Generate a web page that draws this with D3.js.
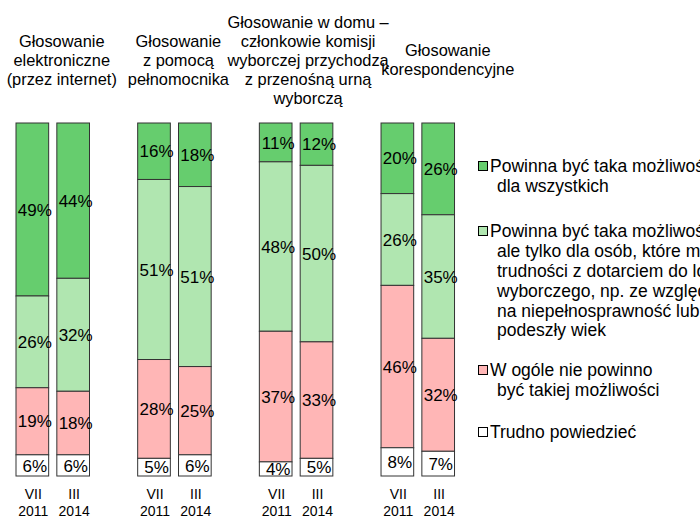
<!DOCTYPE html>
<html>
<head>
<meta charset="utf-8">
<script src="https://cdn.jsdelivr.net/npm/d3@7"></script>
<style>
    body { margin: 0; background: #fff; }
    svg text { font-family: "Liberation Sans", Arial, sans-serif; fill: #000; }
</style>
</head>
<body>
<svg id="chart" width="700" height="517"></svg>
<script>
// data
const groups = ["elektroniczne", "pelnomocnik", "w domu", "korespondencyjne"];
const groupTitles = [
    ["Głosowanie", "elektroniczne", "(przez internet)"],
    ["Głosowanie", "z pomocą", "pełnomocnika"],
    ["Głosowanie w domu –", "członkowie komisji", "wyborczej przychodzą", "z przenośną urną", "wyborczą"],
    ["Głosowanie", "korespondencyjne"]
];
const periods = ["VII 2011", "III 2014"];
const periodLines = [["VII", "2011"], ["III", "2014"]];
const seriesKeys = ["all", "limited", "no", "dontknow"];

// values per group, per period, stacked top -> bottom
const valAll      = [[49, 44], [16, 18], [11, 12], [20, 26]];
const valLimited  = [[26, 32], [51, 51], [48, 50], [26, 35]];
const valNo       = [[19, 18], [28, 25], [37, 33], [46, 32]];
const valDontKnow = [[6, 6],   [5, 6],   [4, 5],   [8, 7]];

const legendLines = [
    ["Powinna być taka możliwość", "dla wszystkich"],
    ["Powinna być taka możliwość", "ale tylko dla osób, które mają", "trudności z dotarciem do lokalu", "wyborczego, np. ze względu", "na niepełnosprawność lub", "podeszły wiek"],
    ["W ogóle nie powinno", "być takiej możliwości"],
    ["Trudno powiedzieć"]
];

const colors = {all: "#66cd6e", limited: "#b0e6b0", no: "#ffb6b6", dontknow: "#ffffff"};

const svg = d3.select("#chart");

const xGroup = d3.scaleBand().domain(groups).range([0, 486.7]);
const xBar = d3.scaleBand().domain(periods).range([16, 89.5]).paddingInner(0.2);
const y = d3.scaleLinear().domain([0, 100]).range([476, 123]);

const values = [valAll, valLimited, valNo, valDontKnow];

groups.forEach(function(g, gi){
    periods.forEach(function(p, pi){
        const bx = xGroup(g) + xBar(p);
        const bw = xBar.bandwidth();
        // build stack from top
        let top = 100;
        const segs = seriesKeys.map(function(k, si){
            const v = values[si][gi][pi];
            const s = {key: k, v: v, y0: top, y1: top - v};
            top -= v;
            return s;
        });

        const bar = svg.append("g");
        bar.selectAll("rect")
            .data(segs)
            .enter().append("rect")
            .attr("x", bx)
            .attr("width", bw)
            .attr("y", d => y(d.y0))
            .attr("height", d => y(d.y1) - y(d.y0))
            .attr("fill", d => colors[d.key])
            .attr("stroke", "#333")
            .attr("stroke-width", 1);

        bar.selectAll("text")
            .data(segs)
            .enter().append("text")
            .attr("x", bx + bw / 2 + 2.5)
            .attr("y", d => (y(d.y0) + y(d.y1)) / 2)
            .attr("dy", "0.36em")
            .attr("text-anchor", "middle")
            .attr("font-size", "17px")
            .text(d => d.v + "%");

        // period label under bar
        periodLines[pi].forEach(function(line, li){
            svg.append("text")
                .attr("x", bx + bw / 2 + 1)
                .attr("y", 499 + li * 16.5)
                .attr("text-anchor", "middle")
                .attr("font-size", "14px")
                .text(line);
        });
    });
});

// group titles, centred vertically on a shared middle line
const titleShift = [9, 4, 12, 30];
const lineH = 19;
const midBase = 65.5;
groupTitles.forEach(function(lines, gi){
    const cx = xGroup(groups[gi]) + (xBar.range()[0] + xBar.range()[1]) / 2 + titleShift[gi];
    const n = lines.length;
    lines.forEach(function(line, li){
        svg.append("text")
            .attr("x", cx)
            .attr("y", midBase + (li - (n - 1) / 2) * lineH)
            .attr("text-anchor", "middle")
            .attr("font-size", "16.4px")
            .text(line);
    });
});

// legend
const legendY = [166, 231, 370, 432];
legendLines.forEach(function(lines, i){
    const g = svg.append("g");
    g.append("rect")
        .attr("x", 478.5)
        .attr("y", legendY[i] - 4.5)
        .attr("width", 9)
        .attr("height", 9)
        .attr("fill", colors[seriesKeys[i]])
        .attr("stroke", "#000")
        .attr("stroke-width", 1);
    lines.forEach(function(line, li){
        g.append("text")
            .attr("x", li == 0 ? 490 : 497)
            .attr("y", legendY[i] + li * 19.8)
            .attr("dy", "0.36em")
            .attr("font-size", "17.5px")
            .text(line);
    });
});
</script>
</body>
</html>
